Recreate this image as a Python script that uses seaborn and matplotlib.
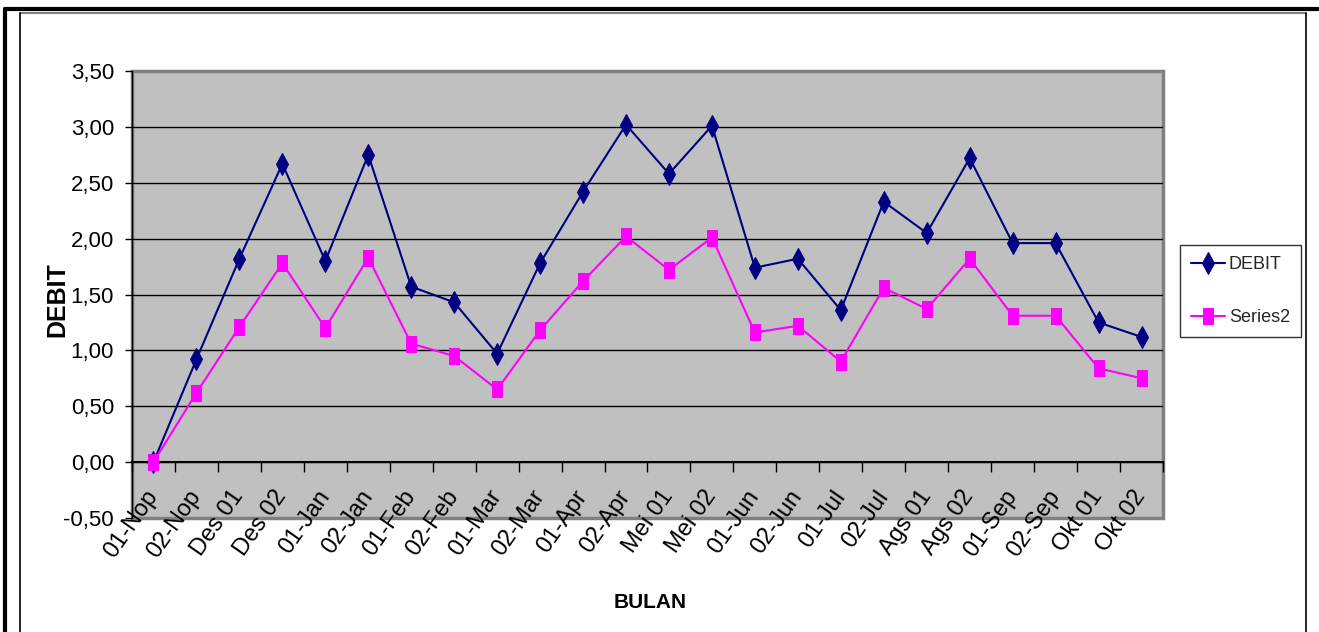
import numpy as np
import pandas as pd
import matplotlib
matplotlib.use("Agg")
import matplotlib.pyplot as plt
import seaborn as sns
from matplotlib.ticker import FuncFormatter, FixedLocator
from matplotlib.lines import Line2D

categories = ["01-Nop", "02-Nop", "Des 01", "Des 02", "01-Jan", "02-Jan", "01-Feb", "02-Feb",
              "01-Mar", "02-Mar", "01-Apr", "02-Apr", "Mei 01", "Mei 02", "01-Jun", "02-Jun",
              "01-Jul", "02-Jul", "Ags 01", "Ags 02", "01-Sep", "02-Sep", "Okt 01", "Okt 02"]
debit = [0.00, 0.92, 1.82, 2.67, 1.80, 2.75, 1.57, 1.43, 0.97, 1.78, 2.42, 3.02,
         2.58, 3.01, 1.74, 1.82, 1.36, 2.33, 2.05, 2.72, 1.96, 1.96, 1.25, 1.12]
series2 = [0.00, 0.62, 1.21, 1.78, 1.20, 1.83, 1.06, 0.95, 0.65, 1.18, 1.62, 2.02,
           1.72, 2.01, 1.16, 1.22, 0.90, 1.56, 1.37, 1.82, 1.31, 1.31, 0.84, 0.75]
y_ticks = [-0.5, 0.0, 0.5, 1.0, 1.5, 2.0, 2.5, 3.0, 3.5]

sns.set_theme(style="white")
plt.rcParams["font.family"] = ["Liberation Sans", "DejaVu Sans"]

W, H = 1319, 632
fig = plt.figure(figsize=(W / 100, H / 100), dpi=100)
fig.patch.set_facecolor("white")

# outer frame lines
fig.add_artist(Line2D([5 / W, 1318 / W], [1 - 9 / H, 1 - 9 / H], color="black", lw=3, transform=fig.transFigure))
fig.add_artist(Line2D([5 / W, 5 / W], [0, 1 - 9 / H], color="black", lw=3, transform=fig.transFigure))
fig.add_artist(Line2D([20 / W, 1306 / W], [1 - 12.5 / H, 1 - 12.5 / H], color="#808080", lw=1.5, transform=fig.transFigure))
fig.add_artist(Line2D([20 / W, 20 / W], [0, 1 - 12.5 / H], color="black", lw=1.2, transform=fig.transFigure))
fig.add_artist(Line2D([1306 / W, 1306 / W], [0, 1 - 12.5 / H], color="black", lw=1.2, transform=fig.transFigure))

left, right, top, bottom = 132, 1163, 71, 518
ax = fig.add_axes([left / W, (H - bottom) / H, (right - left) / W, (bottom - top) / H])
ax.set_facecolor("#C0C0C0")
ax.patch.set_edgecolor("#808080")
ax.patch.set_linewidth(2.5)

x = np.arange(len(categories))
df = pd.DataFrame({"x": x, "DEBIT": debit, "Series2": series2})

for v in y_ticks[1:-1]:
    ax.axhline(v, color="black", lw=1, zorder=1)

tall_square = [(-0.67, -1.0), (0.67, -1.0), (0.67, 1.0), (-0.67, 1.0), (-0.67, -1.0)]

sns.lineplot(data=df, x="x", y="DEBIT", ax=ax, color="#000080", marker="d", markersize=11,
             markeredgecolor="#000080", linewidth=1.5, label="DEBIT", zorder=3)
sns.lineplot(data=df, x="x", y="Series2", ax=ax, color="#FF00FF", marker=tall_square, markersize=11,
             markeredgecolor="#FF00FF", linewidth=1.5, label="Series2", zorder=4)

ax.set_xlim(-0.5, len(categories) - 0.5)
ax.set_ylim(y_ticks[0], y_ticks[-1])

for s in ["top", "right"]:
    ax.spines[s].set_visible(False)
ax.spines["left"].set_color("black")
ax.spines["left"].set_linewidth(1)
ax.spines["bottom"].set_position(("data", 0))
ax.spines["bottom"].set_color("black")
ax.spines["bottom"].set_linewidth(1.5)

ax.yaxis.set_major_locator(FixedLocator(y_ticks))
ax.yaxis.set_major_formatter(FuncFormatter(lambda v, p: f"{v:.2f}".replace(".", ",")))
ax.tick_params(axis="y", left=True, length=5, width=1, color="black", direction="out",
               pad=8, labelsize=16, labelcolor="black")

ax.set_xticks(x)
ax.set_xticklabels(categories, rotation=55, ha="right", va="center", rotation_mode="anchor")
ax.xaxis.set_minor_locator(FixedLocator(np.arange(len(categories) + 1) - 0.5))
ax.tick_params(axis="x", which="major", bottom=True, length=0, pad=22, labelsize=17, labelcolor="black")
ax.tick_params(axis="x", which="minor", bottom=True, length=7, width=1, color="black", direction="out")

ax.set_xlabel("BULAN", fontsize=15, fontweight="bold", color="black")
ax.set_ylabel("DEBIT", fontsize=18, fontweight="bold", color="black")
ax.xaxis.set_label_coords((650 - left) / (right - left), (H - 603 - (H - bottom)) / (bottom - top))
ax.xaxis.label.set_va("center")
ax.yaxis.set_label_coords((57 - left) / (right - left), (H - 300 - (H - bottom)) / (bottom - top))
ax.yaxis.label.set_va("center")

leg = ax.legend(loc="upper left", bbox_to_anchor=(1180 / W, 1 - 245 / H), bbox_transform=fig.transFigure,
                frameon=True, fancybox=False, edgecolor="black", fontsize=13, labelspacing=2.0,
                borderpad=0.6, handlelength=1.9, handletextpad=0.2, borderaxespad=0)
leg.get_frame().set_linewidth(1)

fig.savefig("out.png", dpi=100, facecolor="white")
